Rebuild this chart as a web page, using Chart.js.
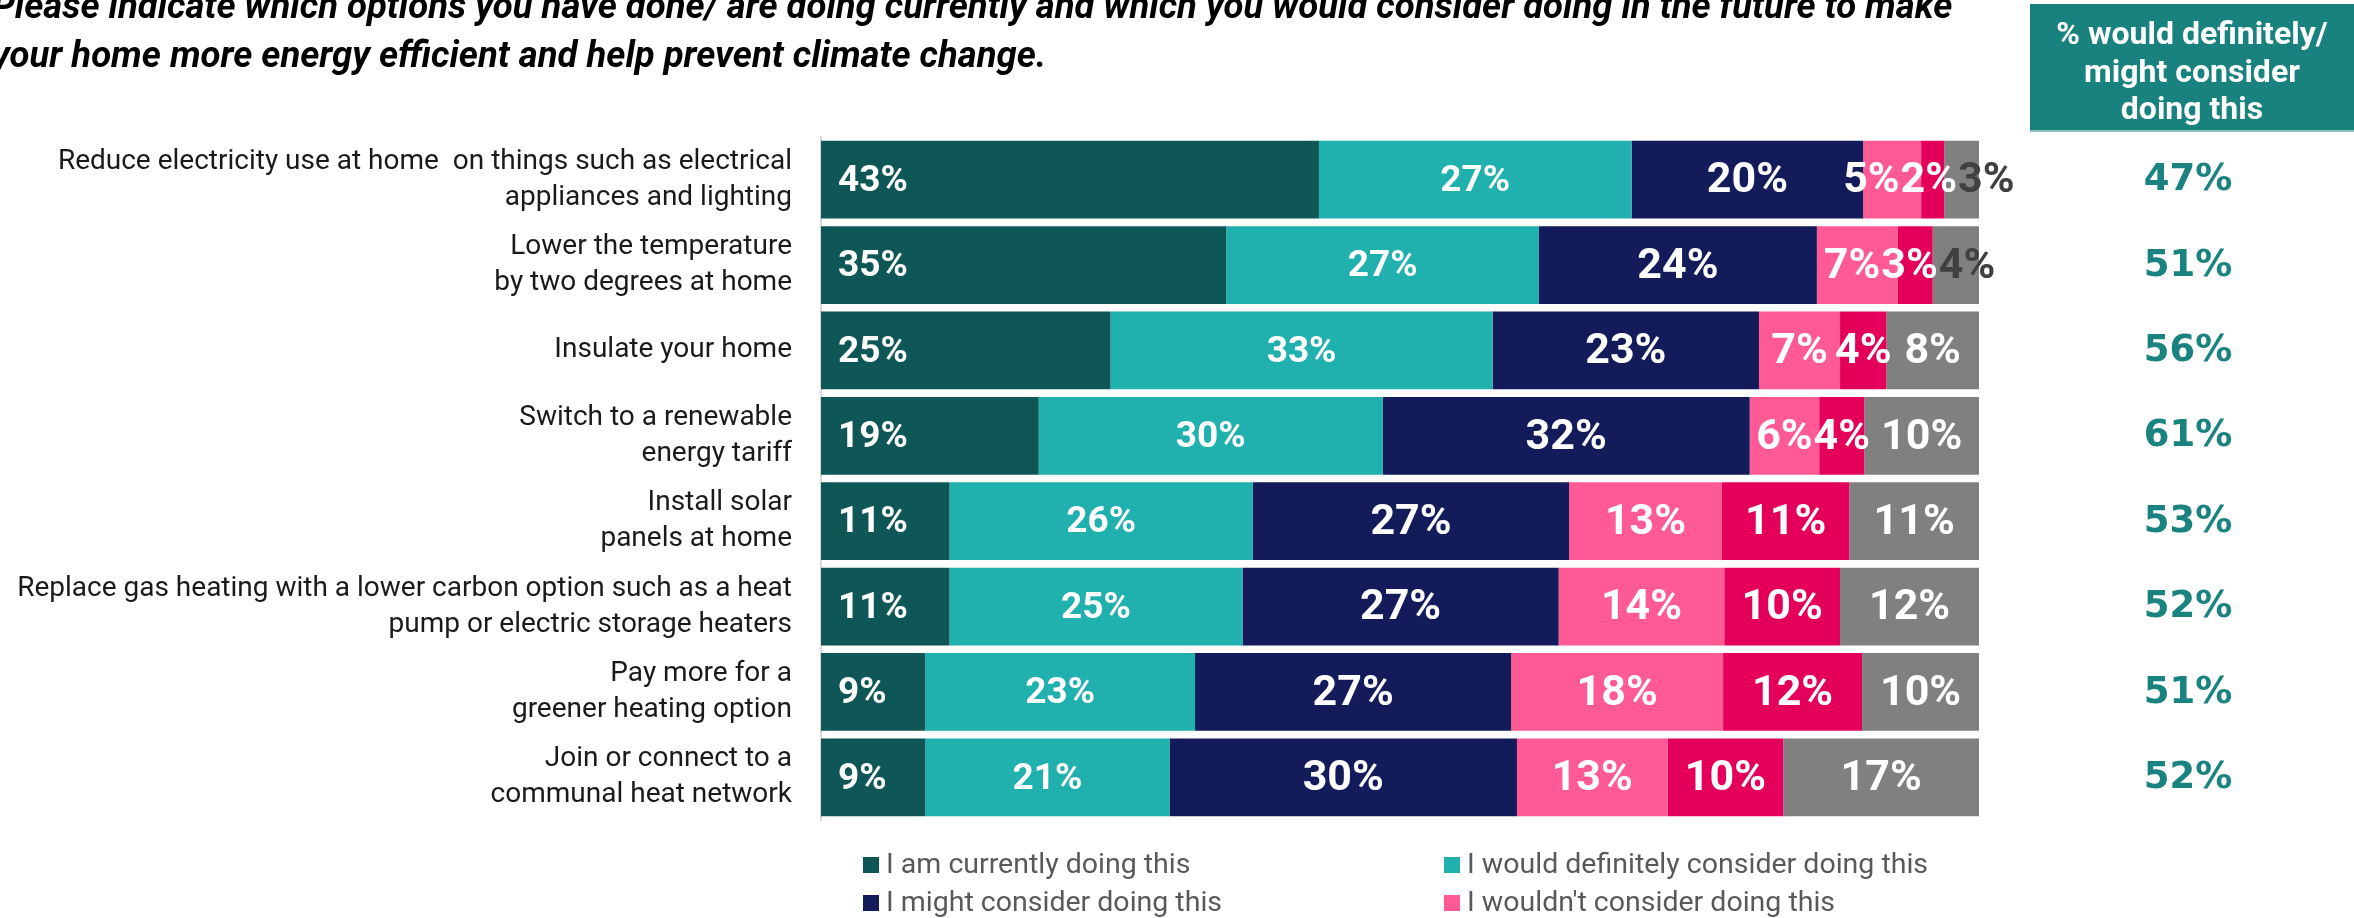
<!DOCTYPE html>
<html>
<head>
<meta charset="utf-8">
<script src="https://cdn.jsdelivr.net/npm/chart.js@4"></script>
<style>
    html, body { margin: 0; padding: 0; background: #ffffff; overflow: hidden; }
    #chartContainer { width: 2354px; height: 918px; position: relative; }
</style>
</head>
<body>
<div id="chartContainer"><canvas id="myChart" width="2354" height="918"></canvas></div>
<script>
// Question title (first line is cut at the top of the slide)
const titleLines = [
    'Please indicate which options you have done/ are doing currently and which you would consider doing in the future to make',
    'your home more energy efficient and help prevent climate change.'
];

const categories = [
    ['Reduce electricity use at home  on things such as electrical', 'appliances and lighting'],
    ['Lower the temperature', 'by two degrees at home'],
    'Insulate your home',
    ['Switch to a renewable', 'energy tariff'],
    ['Install solar', 'panels at home'],
    ['Replace gas heating with a lower carbon option such as a heat', 'pump or electric storage heaters'],
    ['Pay more for a', 'greener heating option'],
    ['Join or connect to a', 'communal heat network']
];

// Shares in % (labels are rounded)
const currentlyDoing   = [43, 35, 25, 18.8, 11.1, 11.1, 9.0, 9.0];
const wouldDefinitely  = [27, 27, 33, 29.7, 26.2, 25.3, 23.3, 21.1];
const mightConsider    = [20, 24, 23, 31.7, 27.3, 27.3, 27.3, 30.0];
const wouldNotConsider = [5, 7, 7, 6.0, 13.2, 14.3, 18.3, 13.0];
const alreadyDone      = [2, 3, 4, 3.9, 11.0, 10.0, 12.0, 10.0];
const dontKnow         = [3, 4, 8, 9.9, 11.2, 12.0, 10.1, 16.9];

// Right hand column: % would definitely / might consider
const considerTotals = [47, 51, 56, 61, 53, 52, 51, 52];
const headerLines = ['% would definitely/', 'might consider', 'doing this'];

const seriesLabels = [
    'I am currently doing this',
    'I would definitely consider doing this',
    'I might consider doing this',
    "I wouldn't consider doing this",
    'I have done this in the past',
    "Don't know"
];
const seriesColors = ['#0f5756', '#20b0ae', '#131b5a', '#ff5a96', '#e4005a', '#808080'];

document.addEventListener('DOMContentLoaded', function() {
    const ctx = document.getElementById('myChart').getContext('2d');

    const seriesValues = [currentlyDoing, wouldDefinitely, mightConsider, wouldNotConsider, alreadyDone, dontKnow];

    const data = {
        labels: categories,
        datasets: seriesValues.map((vals, i) => ({
            label: seriesLabels[i],
            data: vals,
            backgroundColor: seriesColors[i],
            borderWidth: 0,
            barPercentage: 0.91,
            categoryPercentage: 1
        }))
    };

    // Everything the library does not draw by itself
    const extras = {
        id: 'extras',
        afterDatasetsDraw(chart) {
            const c = chart.ctx;
            const nDs = chart.data.datasets.length;
            c.save();
            c.textBaseline = 'middle';
            chart.data.labels.forEach((cat, i) => {
                // collect labels of one row
                const items = [];
                for (let di = 0; di < nDs; di++) {
                    const bar = chart.getDatasetMeta(di).data[i];
                    const v = chart.data.datasets[di].data[i];
                    const text = Math.round(v) + '%';
                    // first two series use a slightly smaller label
                    const font = di < 2 ? 'bold 37px Roboto' : 'bold 43px Roboto';
                    c.font = font;
                    const w = c.measureText(text).width;
                    const left = Math.min(bar.base, bar.x);
                    const right = Math.max(bar.base, bar.x);
                    const cx = di === 0 ? left + 17 + w / 2 : (left + right) / 2;
                    items.push({ text, w, cx, font, y: bar.y, color: (di === 5 && v < 5) ? '#404040' : '#ffffff' });
                }
                // push small neighbouring labels apart
                for (let k = 0; k < 20; k++) {
                    for (let j = 2; j < items.length; j++) {
                        const a = items[j - 1], b = items[j];
                        const overlap = (a.cx + a.w / 2) - (b.cx - b.w / 2) + 1;
                        if (overlap > 0) {
                            a.cx -= overlap / 2;
                            b.cx += overlap / 2;
                        }
                    }
                }
                c.textAlign = 'center';
                items.forEach(it => {
                    c.font = it.font;
                    c.fillStyle = it.color;
                    c.fillText(it.text, it.cx, it.y + 2);
                });
            });
            c.restore();
        },
        afterDraw(chart) {
            const c = chart.ctx;
            const yScale = chart.scales.y;
            c.save();

            // title
            c.fillStyle = '#000000';
            c.font = 'italic bold 36.5px Roboto';
            c.textAlign = 'left';
            c.textBaseline = 'alphabetic';
            c.fillText(titleLines[0], -8, 18);
            c.fillText(titleLines[1], -8, 67);

            // header box on the right
            c.fillStyle = '#1a827e';
            c.fillRect(2030, 4, 324, 128);
            c.fillStyle = '#8cc3c0';
            c.fillRect(2030, 130, 324, 2);
            c.fillStyle = '#ffffff';
            c.font = 'bold 32px Roboto';
            c.textAlign = 'center';
            headerLines.forEach((t, i) => c.fillText(t, 2192, 44 + i * 37.5));

            // totals column
            c.fillStyle = '#1a837f';
            c.font = 'bold 37px "DejaVu Sans"';
            c.textBaseline = 'middle';
            considerTotals.forEach((t, i) => {
                c.fillText(t + '%', 2188, yScale.getPixelForValue(i) + 1);
            });

            // legend, two columns
            c.font = '28.5px Roboto';
            c.textAlign = 'left';
            seriesLabels.forEach((lab, i) => {
                const x = (i % 2) ? 1444 : 863;
                const y = 865 + Math.floor(i / 2) * 38;
                c.fillStyle = seriesColors[i];
                c.fillRect(x, y - 8, 16, 16);
                c.fillStyle = '#595959';
                c.fillText(lab, x + 23, y + 1);
            });
            c.restore();
        }
    };

    const options = {
        indexAxis: 'y',
        responsive: false,
        maintainAspectRatio: false,
        animation: false,
        devicePixelRatio: 1,
        layout: { padding: { left: 0, right: 375, top: 137, bottom: 98 } },
        scales: {
            x: { display: false, stacked: true, min: 0, max: 100 },
            y: {
                stacked: true,
                grid: { display: false, drawTicks: false },
                border: { display: true, color: '#d9d9d9', width: 2 },
                ticks: {
                    color: '#1a1a1a',
                    padding: 29,
                    font: { family: 'Roboto', size: 28, lineHeight: 1.286 }
                },
                afterFit(scale) { scale.width = 821; }
            }
        },
        plugins: {
            legend: { display: false },
            tooltip: { enabled: false },
            title: { display: false }
        }
    };

    const myChart = new Chart(ctx, {
        type: 'bar',
        data: data,
        options: options,
        plugins: [extras]
    });
});
</script>
</body>
</html>
